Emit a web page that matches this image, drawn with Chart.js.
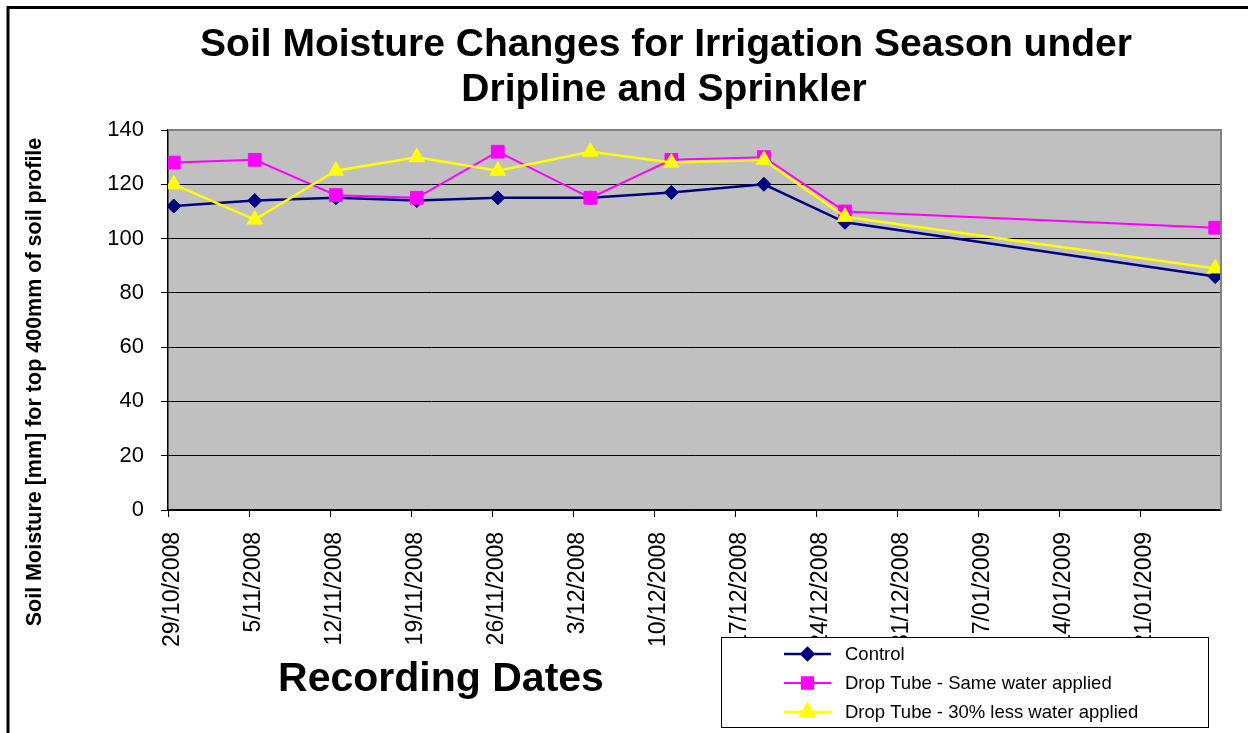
<!DOCTYPE html>
<html>
<head>
<meta charset="utf-8">
<script src="https://cdn.jsdelivr.net/npm/chart.js@4.4.1/dist/chart.umd.min.js"></script>
<style>
  html, body { margin: 0; padding: 0; background: #ffffff; }
  #wrap { width: 1248px; height: 733px; position: relative; }
</style>
</head>
<body>
<div id="wrap"><canvas id="c" width="1248" height="733"></canvas></div>
<script>
// ---- Data ----
const recordingDates = ['2008-10-29','2008-11-05','2008-11-12','2008-11-19','2008-11-26','2008-12-04','2008-12-11','2008-12-19','2008-12-26','2009-01-27'];
const controlValues = [112, 114, 115, 114, 115, 115, 117, 120, 106, 86];
const sameWaterValues = [128, 129, 116, 115, 132, 115, 129, 130, 110, 104];
const lessWaterValues = [120, 107, 125, 130, 125, 132, 128, 129, 108, 89];
const xTickDates = ['2008-10-29','2008-11-05','2008-11-12','2008-11-19','2008-11-26','2008-12-03','2008-12-10','2008-12-17','2008-12-24','2008-12-31','2009-01-07','2009-01-14','2009-01-21','2009-01-28'];
const yTicks = [0, 20, 40, 60, 80, 100, 120, 140];
const seriesNames = ['Control', 'Drop Tube - Same water applied', 'Drop Tube - 30% less water applied'];
const titleLines = ['Soil Moisture Changes for Irrigation Season under', 'Dripline and Sprinkler'];
const xTitle = 'Recording Dates';
const yTitle = 'Soil Moisture [mm] for top 400mm of soil profile';

// ---- helpers ----
function dayNum(s) {
  const p = s.split('-').map(Number);
  return Date.UTC(p[0], p[1] - 1, p[2]) / 86400000;
}
function fmtDay(n) {
  const d = new Date(Math.round(n) * 86400000);
  const dd = d.getUTCDate();
  const mm = String(d.getUTCMonth() + 1).padStart(2, '0');
  return dd + '/' + mm + '/' + d.getUTCFullYear();
}
// Excel date axis: a point sits in the middle of its day
function pts(vals) {
  return vals.map((v, i) => ({ x: dayNum(recordingDates[i]) + 0.5, y: v }));
}
const xTickNums = xTickDates.map(dayNum);
const FONT = "'Liberation Sans', Arial, sans-serif";

const decor = {
  id: 'decor',
  beforeDraw(chart) {
    const { ctx, chartArea: a } = chart;
    ctx.save();
    ctx.fillStyle = '#ffffff';
    ctx.fillRect(0, 0, chart.width, chart.height);
    ctx.fillStyle = '#C0C0C0';
    ctx.fillRect(a.left, a.top, a.right - a.left, a.bottom - a.top);
    ctx.restore();
  },
  afterDatasetsDraw(chart) {
    const { ctx, chartArea: a } = chart;
    ctx.save();
    ctx.strokeStyle = '#808080';
    ctx.lineWidth = 2;
    ctx.beginPath();
    ctx.moveTo(a.left, a.top);
    ctx.lineTo(a.right, a.top);
    ctx.lineTo(a.right, a.bottom);
    ctx.stroke();
    ctx.restore();
  },
  afterDraw(chart) {
    const { ctx } = chart;
    ctx.save();
    // outer frame
    ctx.strokeStyle = '#000000';
    ctx.lineWidth = 3;
    ctx.beginPath();
    ctx.moveTo(8, 740);
    ctx.lineTo(8, 7.5);
    ctx.lineTo(1260, 7.5);
    ctx.stroke();
    // title
    ctx.fillStyle = '#000';
    ctx.textAlign = 'center';
    ctx.textBaseline = 'middle';
    ctx.font = 'bold 39px ' + FONT;
    ctx.fillText(titleLines[0], 666, 45);
    ctx.fillText(titleLines[1], 664, 90);
    // x title
    ctx.font = 'bold 41px ' + FONT;
    ctx.fillText(xTitle, 441, 680);
    // y title
    ctx.save();
    ctx.translate(35, 382);
    ctx.rotate(-Math.PI / 2);
    ctx.font = 'bold 21.5px ' + FONT;
    ctx.fillText(yTitle, 0, 0);
    ctx.restore();
    // legend
    const L = { x: 721, y: 637, w: 487, h: 90 };
    ctx.fillStyle = '#ffffff';
    ctx.fillRect(L.x, L.y, L.w, L.h);
    ctx.strokeStyle = '#000';
    ctx.lineWidth = 1;
    ctx.strokeRect(L.x + 0.5, L.y + 0.5, L.w, L.h);
    const rowsY = [654, 683, 712];
    chart.data.datasets.forEach((ds, i) => {
      const y = rowsY[i];
      ctx.strokeStyle = ds.borderColor;
      ctx.lineWidth = ds.borderWidth;
      ctx.beginPath();
      ctx.moveTo(784, y);
      ctx.lineTo(831, y);
      ctx.stroke();
      ctx.fillStyle = ds.pointBackgroundColor;
      ctx.strokeStyle = ds.pointBorderColor;
      Chart.helpers.drawPoint(ctx, {
        pointStyle: ds.pointStyle,
        radius: ds.legendRadius,
        borderWidth: 1
      }, 807.5, y);
      ctx.fillStyle = '#000';
      ctx.textAlign = 'left';
      ctx.font = '18.5px ' + FONT;
      ctx.fillText(ds.label, 845, y + 1);
    });
    ctx.restore();
  }
};

new Chart(document.getElementById('c'), {
  type: 'line',
  data: {
    datasets: [
      {
        label: seriesNames[0], data: pts(controlValues),
        borderColor: '#000080', backgroundColor: '#000080', borderWidth: 2.5,
        pointStyle: 'rectRot', pointRadius: 7, legendRadius: 6,
        pointBackgroundColor: '#000080', pointBorderColor: '#000080', pointBorderWidth: 1,
        order: 3
      },
      {
        label: seriesNames[1], data: pts(sameWaterValues),
        borderColor: '#FF00FF', backgroundColor: '#FF00FF', borderWidth: 2,
        pointStyle: 'rect', pointRadius: 9, legendRadius: 8,
        pointBackgroundColor: '#FF00FF', pointBorderColor: '#FF00FF', pointBorderWidth: 1,
        order: 2
      },
      {
        label: seriesNames[2], data: pts(lessWaterValues),
        borderColor: '#FFFF00', backgroundColor: '#FFFF00', borderWidth: 2.5,
        pointStyle: 'triangle', pointRadius: 9, legendRadius: 8,
        pointBackgroundColor: '#FFFF00', pointBorderColor: '#FFFF00', pointBorderWidth: 1,
        order: 1
      }
    ]
  },
  options: {
    responsive: false,
    animation: false,
    events: [],
    layout: { padding: { top: 130, right: 27, left: 0, bottom: 0 } },
    plugins: { legend: { display: false }, title: { display: false }, tooltip: { enabled: false } },
    scales: {
      x: {
        type: 'linear',
        min: xTickNums[0],
        max: xTickNums[xTickNums.length - 1],
        afterBuildTicks(scale) {
          scale.ticks = xTickNums.slice(0, -1).map(v => ({ value: v }));
        },
        afterFit(scale) { scale.height = 223; },
        grid: { drawOnChartArea: false, drawTicks: true, tickLength: 7, color: '#000', lineWidth: 1 },
        border: { color: '#000', width: 1.5 },
        ticks: {
          minRotation: 90, maxRotation: 90, autoSkip: false, padding: 15, labelOffset: 5,
          color: '#000', font: { family: FONT, size: 23 },
          callback: (v) => fmtDay(v)
        }
      },
      y: {
        min: 0, max: 140,
        afterBuildTicks(scale) { scale.ticks = yTicks.map(v => ({ value: v })); },
        afterFit(scale) { scale.width = 168; },
        grid: { color: '#000', lineWidth: 1, tickLength: 7, drawTicks: true },
        border: { color: '#000', width: 1.5 },
        ticks: { color: '#000', padding: 17, font: { family: FONT, size: 22 } }
      }
    }
  },
  plugins: [decor]
});
</script>
</body>
</html>
